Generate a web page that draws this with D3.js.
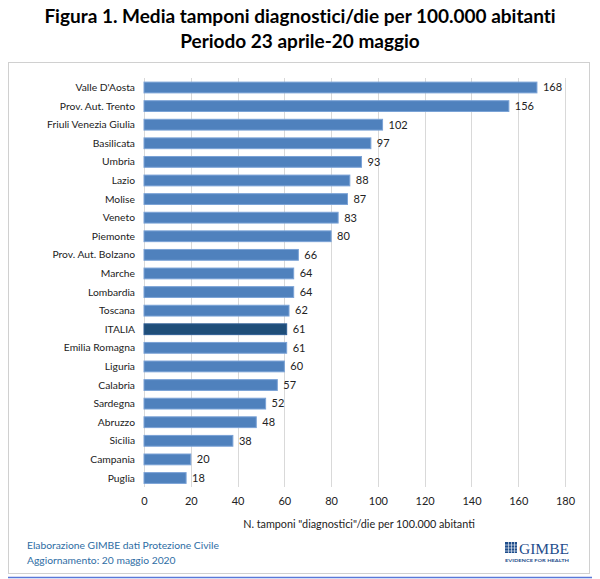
<!DOCTYPE html>
<html><head><meta charset="utf-8">
<script src="https://cdn.jsdelivr.net/npm/d3@7"></script>
<style>
html,body{margin:0;padding:0;background:#fff;}
</style></head>
<body>
<svg id="c" width="600" height="579" font-family="Lato, 'Open Sans', sans-serif"></svg>
<script>
const categories = ["Valle D'Aosta","Prov. Aut. Trento","Friuli Venezia Giulia","Basilicata","Umbria","Lazio","Molise","Veneto","Piemonte","Prov. Aut. Bolzano","Marche","Lombardia","Toscana","ITALIA","Emilia Romagna","Liguria","Calabria","Sardegna","Abruzzo","Sicilia","Campania","Puglia"];
const values = [168,156,102,97,93,88,87,83,80,66,64,64,62,61,61,60,57,52,48,38,20,18];
const xTicks = [0,20,40,60,80,100,120,140,160,180];
const titleLines = ["Figura 1. Media tamponi diagnostici/die per 100.000 abitanti","Periodo 23 aprile-20 maggio"];
const axisTitle = "N. tamponi \"diagnostici\"/die per 100.000 abitanti";
const footer = ["Elaborazione GIMBE dati Protezione Civile","Aggiornamento: 20 maggio 2020"];
const highlight = "ITALIA";

const svg = d3.select("#c");
// titles
svg.selectAll("text.title").data(titleLines).join("text")
  .attr("class","title").attr("x",300).attr("y",(d,i)=>23+i*25)
  .attr("text-anchor","middle").attr("font-size",19).attr("font-weight","bold").attr("fill","#000")
  .style("font-variant-ligatures","none")
  .text(d=>d);
// box
svg.append("rect").attr("x",8.5).attr("y",62.5).attr("width",581).attr("height",511)
  .attr("fill","#fff").attr("stroke","#d0d0d0");
svg.append("line").attr("x1",8).attr("x2",592).attr("y1",577.5).attr("y2",577.5)
  .attr("stroke","#5a78d8").attr("stroke-width",1.5);

const x = d3.scaleLinear().domain([0,180]).range([144,565]);
const y = d3.scaleBand().domain(categories).range([78.2,487.3]).paddingInner(0.42).paddingOuter(0.21);

const g = svg.append("g");
g.selectAll("line.grid").data(xTicks).join("line").attr("class","grid")
  .attr("x1",d=>Math.round(x(d))+0.5).attr("x2",d=>Math.round(x(d))+0.5)
  .attr("y1",78).attr("y2",487).attr("stroke","#d9d9d9").attr("stroke-width",1);

g.selectAll("rect.bar").data(values).join("rect").attr("class","bar")
  .attr("x",x(0)).attr("y",(d,i)=>y(categories[i]))
  .attr("width",d=>x(d)-x(0)).attr("height",y.bandwidth())
  .attr("fill",(d,i)=>categories[i]===highlight?"#1f4e79":"#4f81bd")
  .attr("stroke",(d,i)=>categories[i]===highlight?"#2f5d93":"#7aa2d6").attr("stroke-width",1);

g.selectAll("text.val").data(values).join("text").attr("class","val")
  .attr("x",d=>x(d)+6).attr("y",(d,i)=>y(categories[i])+y.bandwidth()/2)
  .attr("dy","0.35em").attr("font-size",11).attr("fill","#222").text(d=>d);

g.selectAll("text.cat").data(categories).join("text").attr("class","cat")
  .attr("x",135).attr("y",d=>y(d)+y.bandwidth()/2).attr("dy","0.35em")
  .attr("text-anchor","end").attr("font-size",10.3).attr("fill","#222").text(d=>d);

const ax = svg.append("g").attr("transform","translate(0,497)")
  .call(d3.axisBottom(x).tickValues(xTicks).tickSize(0).tickPadding(0));
ax.select(".domain").remove();
ax.selectAll("text").attr("font-size",11).attr("fill","#222").attr("font-family","Lato, 'Open Sans', sans-serif");

svg.append("text").attr("x",359).attr("y",528).attr("text-anchor","middle")
  .attr("font-size",10.8).attr("fill","#222").text(axisTitle);

svg.selectAll("text.foot").data(footer).join("text").attr("class","foot")
  .attr("x",27).attr("y",(d,i)=>549+i*14.5).attr("font-size",10.3).attr("fill","#2e6da4").text(d=>d);

// logo
const logo = svg.append("g");
logo.append("rect").attr("x",505).attr("y",542).attr("width",12).attr("height",11).attr("fill","#1f4e8c");
[0,1,2].forEach(i=>{
  logo.append("line").attr("x1",505).attr("x2",517).attr("y1",545+i*3).attr("y2",545+i*3).attr("stroke","#fff").attr("stroke-width",0.6);
  logo.append("line").attr("y1",542).attr("y2",553).attr("x1",508.5+i*3).attr("x2",508.5+i*3).attr("stroke","#fff").attr("stroke-width",0.6);
});
logo.append("text").attr("x",519).attr("y",553.5).attr("font-size",15.5).attr("font-family","'Liberation Serif', serif")
  .attr("textLength",50).attr("lengthAdjust","spacingAndGlyphs")
  .attr("fill","#1f4e8c").text("GIMBE");
logo.append("text").attr("x",505).attr("y",562).attr("font-size",4).attr("font-weight","bold")
  .attr("textLength",64).attr("lengthAdjust","spacingAndGlyphs")
  .attr("fill","#1f4e8c").text("EVIDENCE FOR HEALTH");
</script>
</body></html>
